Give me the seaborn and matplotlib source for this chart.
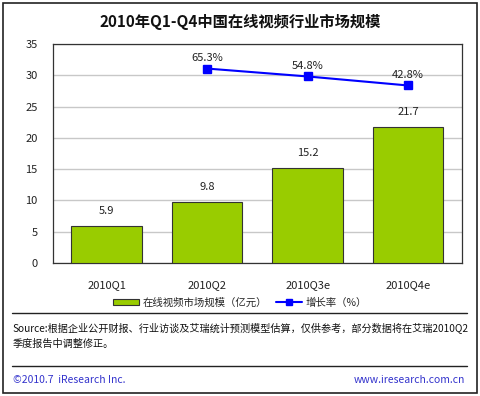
import matplotlib
matplotlib.use('Agg')
import matplotlib.pyplot as plt
import seaborn as sns
import pandas as pd
import numpy as np
from matplotlib.patches import Rectangle, Patch
from matplotlib.lines import Line2D

# data
quarters = ['2010Q1', '2010Q2', '2010Q3e', '2010Q4e']
market_size = [5.9, 9.8, 15.2, 21.7]
growth_rate = [None, 65.3, 54.8, 42.8]

sns.set_style('white')
plt.rcParams['font.family'] = ['Noto Sans CJK SC', 'DejaVu Sans']

df = pd.DataFrame({'quarter': quarters, 'size': market_size, 'growth': growth_rate})

fig = plt.figure(figsize=(4.8, 3.96), dpi=100)
ax = fig.add_axes([0.110, 0.336, 0.8525, 0.553])

sns.barplot(data=df, x='quarter', y='size', color='#99cc00', width=0.7,
            edgecolor='#333333', linewidth=0.8, saturation=1, ax=ax, zorder=3)
ax.set_ylim(0, 35)
ax.set_yticks(range(0, 36, 5))
ax.yaxis.grid(True, color='#c8c8c8', linewidth=1)
ax.set_axisbelow(True)
ax.set_xlabel('')
ax.set_ylabel('')
ax.tick_params(axis='both', labelsize=8, colors='#222222', length=0, pad=12)
ax.tick_params(axis='y', pad=11)
for s in ax.spines.values():
    s.set_color('#333333')
    s.set_linewidth(0.9)
for i, v in enumerate(market_size):
    ax.text(i, v + 1.6, f'{v}', ha='center', va='bottom', fontsize=8, color='#222222')

# growth rate on a hidden secondary axis
ax2 = ax.twinx()
g = df.dropna(subset=['growth'])
xpos = np.arange(len(quarters))[1:]
ax2.plot(xpos, g['growth'], color='#0000ff', linewidth=1.5, marker='s', markersize=5.5)
ax2.set_ylim(-193, 98)
ax2.set_yticks([])
for s in ax2.spines.values():
    s.set_visible(False)
for x, p in zip(xpos, g['growth']):
    ax2.text(x, p + 7, f'{p}%', ha='center', va='bottom', fontsize=8, color='#222222')

fig.text(0.5, 0.944, '2010年Q1-Q4中国在线视频行业市场规模', ha='center', va='center',
         fontsize=11, fontweight='bold', color='#111111')

handles = [Patch(facecolor='#99cc00', edgecolor='#333333', linewidth=0.8),
           Line2D([0], [0], color='#0000ff', linewidth=1.5, marker='s', markersize=4)]
fig.legend(handles, ['在线视频市场规模（亿元）', '增长率（%）'], loc='center',
           bbox_to_anchor=(0.5, 0.236), ncol=2, frameon=False, fontsize=7.5,
           handlelength=2.5, handleheight=0.6, columnspacing=0.8, handletextpad=0.4)

fig.add_artist(Line2D([0.025, 0.973], [0.21, 0.21], color='#222222', linewidth=1))
fig.add_artist(Line2D([0.025, 0.973], [0.076, 0.076], color='#222222', linewidth=1))
fig.text(0.027, 0.172, 'Source:根据企业公开财报、行业访谈及艾瑞统计预测模型估算，仅供参考，部分数据将在艾瑞2010Q2',
         fontsize=7.3, color='#111111', va='center')
fig.text(0.027, 0.132, '季度报告中调整修正。', fontsize=7.3, color='#111111', va='center')
fig.text(0.027, 0.04, '©2010.7  iResearch Inc.', fontsize=7.5, color='#3333cc', va='center')
fig.text(0.968, 0.04, 'www.iresearch.com.cn', fontsize=7.5, color='#3333cc', va='center', ha='right')

fig.add_artist(Rectangle((0.006, 0.007), 0.988, 0.986, fill=False,
                         edgecolor='#222222', linewidth=1.2, transform=fig.transFigure))

fig.savefig('out.png', dpi=100)
